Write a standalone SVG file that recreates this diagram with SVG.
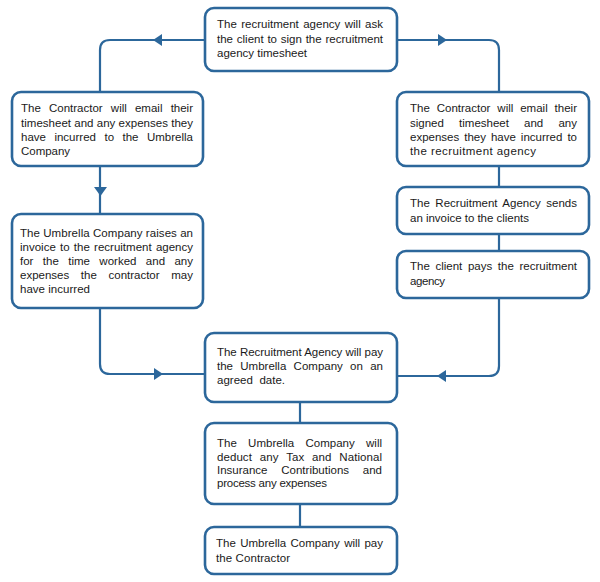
<svg xmlns="http://www.w3.org/2000/svg" width="600" height="582" viewBox="0 0 600 582">
<style>
.box{fill:#fff;stroke:#2c679b;stroke-width:2.6}
.con{fill:none;stroke:#2c679b;stroke-width:2.2}
.arr{fill:#2c679b;stroke:none}
text{font-family:"Liberation Sans",Arial,sans-serif;font-size:11.5px;fill:#1a1a1a}
</style>
<rect width="600" height="582" fill="#fff"/>
<g id="connectors">
<path class="con" d="M205,40 H110 Q100,40 100,50 V92"/>
<path class="con" d="M397,40 H489 Q499,40 499,50 V92"/>
<path class="con" d="M100,166 V214"/>
<path class="con" d="M499,166 V187"/>
<path class="con" d="M499,234 V251"/>
<path class="con" d="M100,308 V364 Q100,374 110,374 H205"/>
<path class="con" d="M499,298 V366 Q499,376 489,376 H397"/>
<path class="con" d="M300,402 V423"/>
<path class="con" d="M300,504 V527"/>
<polygon class="arr" points="153,40 162,34 162,46"/>
<polygon class="arr" points="447,40 438,34 438,46"/>
<polygon class="arr" points="94,187 107,187 100.5,196"/>
<polygon class="arr" points="163,374 154,368 154,380"/>
<polygon class="arr" points="437,376 446,370 446,382"/>
</g>
<g id="n1">
<rect class="box" x="205" y="8" width="192" height="63" rx="9"/>
<text x="217" y="28" word-spacing="1.2" textLength="166">The recruitment agency will ask</text>
<text x="217" y="43" word-spacing="0.6" textLength="166">the client to sign the recruitment</text>
<text x="217" y="57" textLength="90">agency timesheet</text>
</g>
<g id="n2">
<rect class="box" x="12" y="92" width="191" height="74" rx="9"/>
<text x="21" y="112" word-spacing="5" textLength="172">The Contractor will email their</text>
<text x="21" y="127" textLength="172">timesheet and any expenses they</text>
<text x="21" y="141" word-spacing="5.3" textLength="172">have incurred to the Umbrella</text>
<text x="21" y="155" textLength="49">Company</text>
</g>
<g id="n3">
<rect class="box" x="12" y="214" width="191" height="94" rx="9"/>
<text x="20" y="237" textLength="173">The Umbrella Company raises an</text>
<text x="20" y="251" word-spacing="1" textLength="173">invoice to the recruitment agency</text>
<text x="20" y="265" word-spacing="6.2" textLength="173">for the time worked and any</text>
<text x="20" y="279" word-spacing="8.5" textLength="173">expenses the contractor may</text>
<text x="20" y="293" textLength="70">have incurred</text>
</g>
<g id="n4">
<rect class="box" x="397" y="92" width="192" height="74" rx="9"/>
<text x="410" y="112" word-spacing="3.7" textLength="167">The Contractor will email their</text>
<text x="410" y="127" word-spacing="12" textLength="167">signed timesheet and any</text>
<text x="410" y="141" word-spacing="1.8" textLength="167">expenses they have incurred to</text>
<text x="410" y="155" textLength="126">the recruitment agency</text>
</g>
<g id="n5">
<rect class="box" x="397" y="187" width="192" height="47" rx="9"/>
<text x="410" y="207" word-spacing="2.2" textLength="167">The Recruitment Agency sends</text>
<text x="410" y="222" textLength="119">an invoice to the clients</text>
</g>
<g id="n6">
<rect class="box" x="397" y="251" width="192" height="47" rx="9"/>
<text x="410" y="270" word-spacing="2.4" textLength="167">The client pays the recruitment</text>
<text x="410" y="285" textLength="35">agency</text>
</g>
<g id="n7">
<rect class="box" x="205" y="333" width="192" height="69" rx="9"/>
<text x="217" y="356" textLength="166">The Recruitment Agency will pay</text>
<text x="217" y="370" word-spacing="4.1" textLength="166">the Umbrella Company on an</text>
<text x="217" y="384" word-spacing="3.4" textLength="68">agreed date.</text>
</g>
<g id="n8">
<rect class="box" x="205" y="423" width="192" height="81" rx="9"/>
<text x="217" y="447" word-spacing="8.1" textLength="165">The Umbrella Company will</text>
<text x="217" y="461" word-spacing="4.6" textLength="165">deduct any Tax and National</text>
<text x="217" y="474" word-spacing="10.6" textLength="165">Insurance Contributions and</text>
<text x="217" y="487" textLength="110">process any expenses</text>
</g>
<g id="n9">
<rect class="box" x="205" y="527" width="192" height="47" rx="9"/>
<text x="216" y="547" word-spacing="1.2" textLength="167">The Umbrella Company will pay</text>
<text x="216" y="562" textLength="74">the Contractor</text>
</g>
</svg>
